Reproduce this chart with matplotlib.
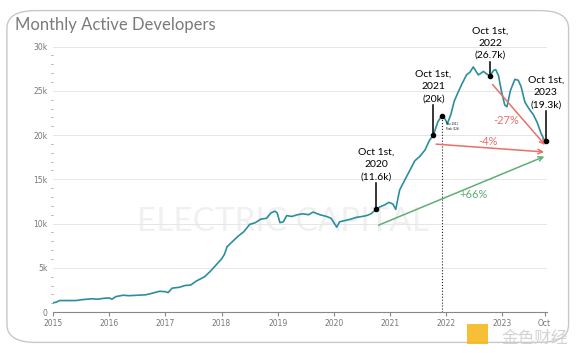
import matplotlib.pyplot as plt
from matplotlib.patches import FancyBboxPatch, Rectangle

# Monthly active developers (thousands)
years = [2015.00, 2015.05, 2015.12, 2015.25, 2015.40, 2015.55, 2015.70, 2015.80, 2015.90,
         2016.00, 2016.05, 2016.12, 2016.25, 2016.35, 2016.50, 2016.65, 2016.75, 2016.90,
         2017.00, 2017.05, 2017.12, 2017.25, 2017.35, 2017.45, 2017.55, 2017.70, 2017.80, 2017.90,
         2018.00, 2018.05, 2018.10, 2018.20, 2018.30, 2018.40, 2018.50, 2018.60, 2018.70, 2018.80,
         2018.88, 2018.95, 2018.99, 2019.04, 2019.10, 2019.16, 2019.25, 2019.35, 2019.45, 2019.55,
         2019.63, 2019.75, 2019.87, 2019.95, 2020.05, 2020.10, 2020.17, 2020.30, 2020.40, 2020.50,
         2020.58, 2020.66, 2020.75, 2020.82, 2020.90, 2020.98, 2021.05, 2021.10, 2021.17, 2021.26,
         2021.35, 2021.44, 2021.53, 2021.62, 2021.70, 2021.77, 2021.85, 2021.92, 2021.97, 2022.02,
         2022.08, 2022.14, 2022.20, 2022.28, 2022.36, 2022.42, 2022.48, 2022.53, 2022.57, 2022.62,
         2022.66, 2022.72, 2022.78, 2022.84, 2022.88, 2022.93, 2022.98, 2023.04, 2023.08, 2023.14,
         2023.22, 2023.28, 2023.33, 2023.40, 2023.48, 2023.55, 2023.62, 2023.68, 2023.74, 2023.77]
devs = [1.05, 1.1, 1.3, 1.3, 1.3, 1.42, 1.5, 1.45, 1.55,
        1.6, 1.45, 1.75, 1.9, 1.85, 1.9, 1.95, 2.1, 2.35,
        2.3, 2.2, 2.7, 2.8, 3.0, 3.05, 3.5, 4.0, 4.6, 5.3,
        6.0, 6.5, 7.4, 8.0, 8.6, 9.1, 9.9, 10.1, 10.5, 10.6,
        11.2, 11.4, 11.2, 10.1, 10.2, 10.9, 10.8, 11.0, 11.1, 11.0,
        11.3, 11.0, 10.8, 10.6, 9.6, 10.2, 10.3, 10.5, 10.7, 10.8,
        10.9, 11.1, 11.6, 11.9, 12.1, 12.4, 12.2, 11.6, 13.8, 14.9,
        16.0, 17.1, 17.6, 18.3, 19.4, 20.0, 21.5, 22.2, 21.9, 21.3,
        22.3, 23.8, 24.7, 25.8, 26.8, 27.1, 27.7, 27.2, 26.8, 27.0,
        27.2, 26.9, 26.7, 27.3, 27.4, 26.7, 25.0, 23.4, 23.2, 25.0,
        26.3, 26.2, 25.5, 23.7, 22.9, 22.3, 21.4, 20.3, 19.5, 19.3]

# Oct 1st markers
mark_x = [2020.75, 2021.77, 2022.78, 2023.77]
mark_y = [11.6, 20.0, 26.7, 19.3]
mark_text = ['Oct 1st,\n2020\n(11.6k)', 'Oct 1st,\n2021\n(20k)',
             'Oct 1st,\n2022\n(26.7k)', 'Oct 1st,\n2023\n(19.3k)']
peak_x, peak_y = 2021.92, 22.2

xticks = [2015, 2016, 2017, 2018, 2019, 2020, 2021, 2022, 2023, 2023.75]
xtick_labels = ['2015', '2016', '2017', '2018', '2019', '2020', '2021', '2022', '2023', 'Oct']
yticks = [0, 5, 10, 15, 20, 25, 30]
ytick_labels = ['0', '5k', '10k', '15k', '20k', '25k', '30k']

fig = plt.figure(figsize=(5.79, 3.53), dpi=100)
fig.patches.append(FancyBboxPatch((0.012, 0.03), 0.97, 0.94, boxstyle='round,pad=0,rounding_size=0.05',
                                  transform=fig.transFigure, fc='white', ec='#c8c8c8', lw=1,
                                  zorder=-5))
fig.text(0.026, 0.928, 'Monthly Active Developers', fontsize=12, color='#7a7a7a',
         family='Lato', va='center')

ax = fig.add_axes([0.0915, 0.116, 0.853, 0.752])
ax.set_facecolor('none')

ax.text(2019.1, 10.2, 'ELECTRIC CAPITAL', fontsize=24, color='#000000', alpha=0.06,
        ha='center', va='center', family='Lato', zorder=0)

ax.plot(years, devs, color='#2a8ea0', lw=1.2, zorder=3)

# dotted line at the Nov 2021 peak
ax.plot([peak_x, peak_x], [0, peak_y], color='#222222', lw=0.8, ls=':', zorder=2)
ax.plot(peak_x, peak_y, 'o', color='black', ms=3, zorder=5)
ax.annotate('Nov 2021\nPeak (22k)', xy=(peak_x, peak_y), xytext=(2022.0, 20.6), fontsize=1.8,
            arrowprops=dict(arrowstyle='-', color='black', lw=0.6), zorder=5)

lifts = [3.0, 3.4, 1.6, 3.4]
for x, y, t, lift in zip(mark_x, mark_y, mark_text, lifts):
    ax.plot(x, y, 'o', color='black', ms=3, zorder=5, clip_on=False)
    ax.plot([x, x], [y, y + lift], color='black', lw=1.1, zorder=5, clip_on=False)
    ax.text(x, y + lift + 0.2, t, ha='center', va='bottom', fontsize=7.5, family='Lato',
            linespacing=1.45, zorder=6)

# change arrows
red = '#e8706a'
green = '#5fae72'
ax.annotate('', xy=(2023.79, 18.64), xytext=(2022.79, 25.96),
            arrowprops=dict(arrowstyle='->', color=red, lw=1.1, mutation_scale=8))
ax.annotate('', xy=(2023.79, 18.07), xytext=(2021.77, 19.0),
            arrowprops=dict(arrowstyle='->', color=red, lw=1.1, mutation_scale=8))
ax.annotate('', xy=(2023.79, 17.7), xytext=(2020.75, 9.7),
            arrowprops=dict(arrowstyle='->', color=green, lw=1.1, mutation_scale=8))
ax.text(2023.07, 21.6, '-27%', color=red, fontsize=8, ha='center', va='center', family='Lato')
ax.text(2022.75, 19.3, '-4%', color=red, fontsize=8, ha='center', va='center', family='Lato')
ax.text(2022.48, 13.3, '+66%', color=green, fontsize=8, ha='center', va='center', family='Lato')

ax.set_xlim(2015, 2023.79)
ax.set_ylim(0, 30)
ax.set_xticks(xticks)
ax.set_xticklabels(xtick_labels)
ax.set_yticks(yticks)
ax.set_yticklabels(ytick_labels)
ax.set_yticks(range(0, 31), minor=True)
ax.tick_params(axis='y', which='major', length=0, labelsize=5.5, labelcolor='#777777', pad=4)
ax.tick_params(axis='y', which='minor', length=1.5, color='#999999', width=0.6)
ax.tick_params(axis='x', length=3, color='#888888', labelsize=5.5, labelcolor='#777777', pad=2)
ax.grid(axis='y', color='#e6e6e6', lw=0.7)
for s in ['top', 'right', 'left']:
    ax.spines[s].set_visible(False)
ax.spines['bottom'].set_color('#888888')
ax.spines['bottom'].set_linewidth(0.8)

# site watermark in the corner
fig.patches.append(Rectangle((0.807, 0.025), 0.035, 0.057, transform=fig.transFigure,
                             fc='#f5b820', ec='none', alpha=0.9))
fig.text(0.924, 0.042, '金色财经', fontsize=12, color='#cfcfcf', family='Noto Sans CJK SC',
         ha='center', va='center', alpha=0.9)

fig.savefig('out.png', dpi=100)
